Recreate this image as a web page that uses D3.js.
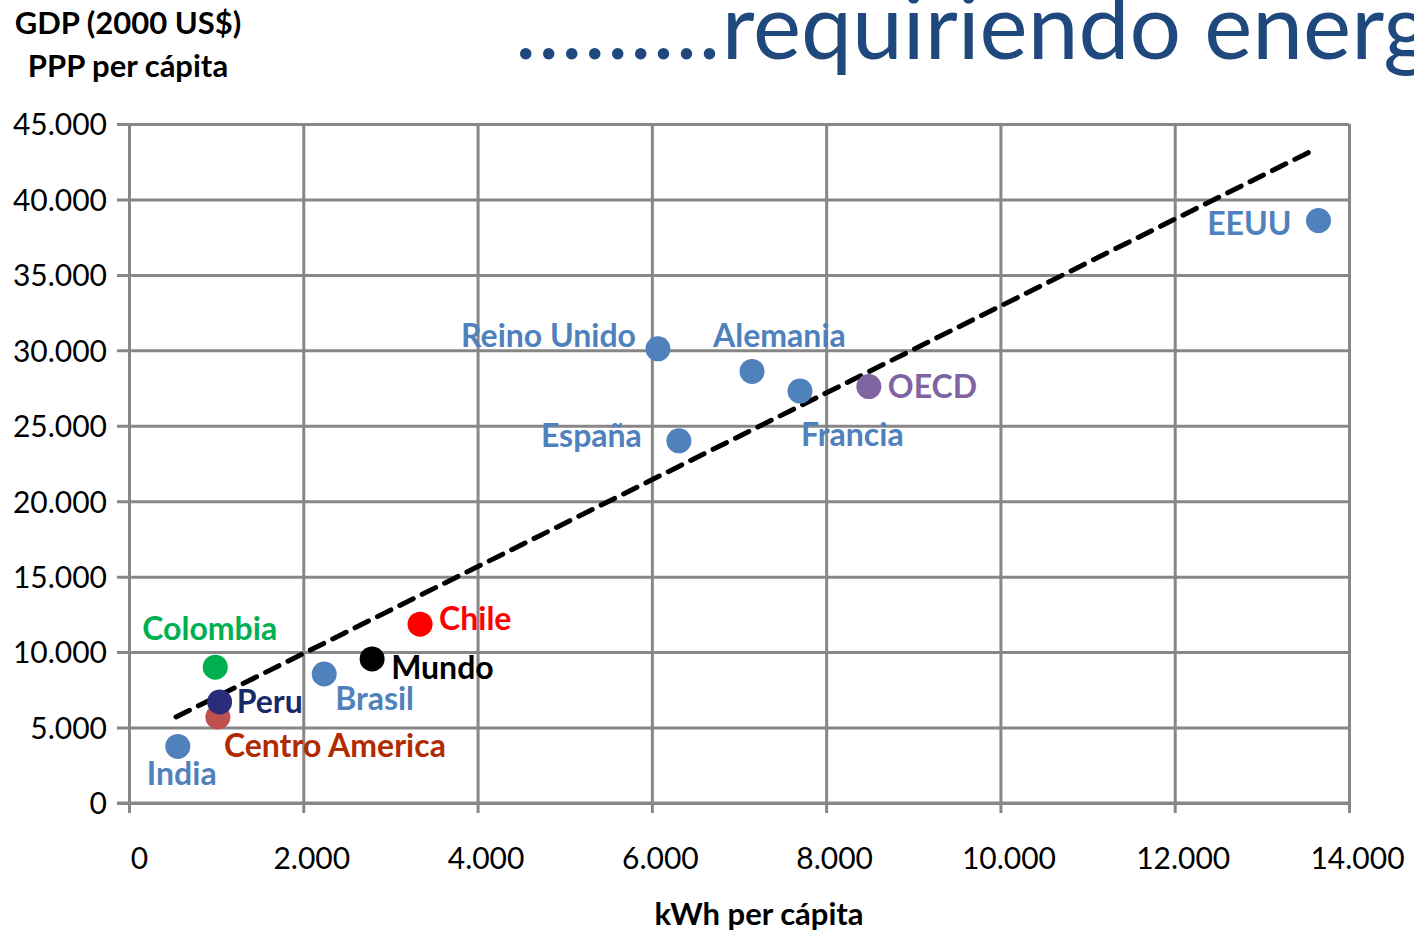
<!DOCTYPE html>
<html>
<head>
<meta charset="utf-8">
<script src="https://cdn.jsdelivr.net/npm/d3@7/dist/d3.min.js"></script>
<style>
  html, body { margin: 0; padding: 0; background: #fff; overflow: hidden; }
  svg { display: block; font-family: Lato, "Open Sans", sans-serif; }
</style>
</head>
<body>
<svg id="chart" width="1414" height="933"></svg>
<script>
// Energy use vs. income per person
const countries = ["EEUU", "Reino Unido", "Alemania", "Francia", "OECD", "España",
                   "Chile", "Mundo", "Brasil", "Colombia", "Peru", "Centro America", "India"];
const kwhPerCapita = [13650, 6070, 7150, 7700, 8490, 6310, 3340, 2790, 2240, 990, 1040, 1020, 560];
const gdpPerCapita = [38600, 30100, 28600, 27300, 27600, 24000, 11850, 9550, 8550, 9000, 6700, 5700, 3750];
const dotColors = ["#4F81BD", "#4F81BD", "#4F81BD", "#4F81BD", "#8064A2", "#4F81BD",
                   "#FF0000", "#000000", "#4F81BD", "#00B050", "#2B2C7C", "#C0504D", "#4F81BD"];
const labelColors = ["#4F81BD", "#4F81BD", "#4F81BD", "#4F81BD", "#8064A2", "#4F81BD",
                     "#FF0000", "#000000", "#4F81BD", "#00B050", "#172B6B", "#B22A00", "#4F81BD"];

// Trend line end points (kWh, GDP)
const trendKwh = [540, 13550];
const trendGdp = [5700, 43150];

const xTicks = [0, 2000, 4000, 6000, 8000, 10000, 12000, 14000];
const yTicks = [0, 5000, 10000, 15000, 20000, 25000, 30000, 35000, 40000, 45000];

// Label placement relative to each dot: [dx, dy, anchor]
const labelPlacement = {
  "EEUU": [-27, 14, "end"],
  "Reino Unido": [-22, -2, "end"],
  "Alemania": [-39, -24, "start"],
  "Francia": [1, 55, "start"],
  "OECD": [19, 11, "start"],
  "España": [-37, 6, "end"],
  "Chile": [19, 6, "start"],
  "Mundo": [19, 20, "start"],
  "Brasil": [11, 36, "start"],
  "Colombia": [-73, -27, "start"],
  "Peru": [17, 11, "start"],
  "Centro America": [6, 40, "start"],
  "India": [-31, 39, "start"]
};

const svg = d3.select("#chart");
const plotLeft = 129, plotRight = 1349, plotTop = 124, plotBottom = 803;

const x = d3.scaleLinear().domain([0, 14000]).range([plotLeft, plotRight]);
const y = d3.scaleLinear().domain([0, 45000]).range([plotBottom, plotTop]);

const locale = d3.formatLocale({ decimal: ",", thousands: ".", grouping: [3], currency: ["", "$"] });
const fmt = locale.format(",d");

const gridColor = "#878787";

// Horizontal grid with left ticks
const yAxis = d3.axisLeft(y).tickValues(yTicks).tickFormat(fmt)
  .tickSize(-(plotRight - plotLeft)).tickSizeOuter(0).tickPadding(10);
const gy = svg.append("g").attr("transform", `translate(${plotLeft},0)`).call(yAxis);
gy.select(".domain").remove();
gy.selectAll(".tick line").attr("x1", -12).attr("stroke", gridColor).attr("stroke-width", 3);
gy.selectAll(".tick text").attr("x", -22).attr("dy", "0.36em")
  .style("font-size", "30px").style("font-family", "Lato, sans-serif").attr("fill", "#000");

// Vertical grid with bottom ticks
const xAxis = d3.axisBottom(x).tickValues(xTicks).tickFormat(fmt)
  .tickSize(-(plotBottom - plotTop)).tickSizeOuter(0).tickPadding(10);
const gx = svg.append("g").attr("transform", `translate(0,${plotBottom})`).call(xAxis);
gx.select(".domain").remove();
gx.selectAll(".tick line").attr("y1", 10).attr("stroke", gridColor).attr("stroke-width", 3);
gx.selectAll(".tick text").attr("y", 55).attr("dy", "0.36em").attr("dx", 8)
  .style("font-size", "30px").style("font-family", "Lato, sans-serif").attr("fill", "#000");
// keep the "0" label right of its tick
gx.selectAll(".tick text").filter(d => d === 0).attr("dx", 10);

// Baseline axis line
svg.append("line").attr("x1", plotLeft - 12).attr("x2", plotRight).attr("y1", plotBottom).attr("y2", plotBottom)
  .attr("stroke", gridColor).attr("stroke-width", 3);

// Dashed trend line
svg.append("line")
  .attr("x1", x(trendKwh[0])).attr("y1", y(trendGdp[0]))
  .attr("x2", x(trendKwh[1])).attr("y2", y(trendGdp[1]))
  .attr("stroke", "#000").attr("stroke-width", 5)
  .attr("stroke-dasharray", "15 10").attr("stroke-linecap", "round");

// Dots
const points = countries.map((c, i) => ({ name: c, kwh: kwhPerCapita[i], gdp: gdpPerCapita[i], dot: dotColors[i], lab: labelColors[i] }));
const drawOrder = ["Colombia", "Centro America", "Peru", "India", "Brasil", "Mundo", "Chile",
                   "España", "Reino Unido", "Alemania", "Francia", "OECD", "EEUU"];
svg.append("g").selectAll("circle")
  .data(drawOrder.map(n => points.find(p => p.name === n)))
  .join("circle")
  .attr("cx", d => x(d.kwh)).attr("cy", d => y(d.gdp)).attr("r", 12.5)
  .attr("fill", d => d.dot);

// Point labels
svg.append("g").selectAll("text")
  .data(points)
  .join("text")
  .attr("x", d => x(d.kwh) + labelPlacement[d.name][0])
  .attr("y", d => y(d.gdp) + labelPlacement[d.name][1])
  .attr("text-anchor", d => labelPlacement[d.name][2])
  .attr("fill", d => d.lab)
  .style("font-size", "32px").style("font-weight", "bold")
  .text(d => d.name);

// Axis titles
const yTitle = svg.append("text").attr("text-anchor", "middle")
  .style("font-size", "31px").style("font-weight", "bold").attr("fill", "#000");
yTitle.append("tspan").attr("x", 128).attr("y", 34).text("GDP (2000 US$)");
yTitle.append("tspan").attr("x", 128).attr("y", 77).text("PPP per cápita");

svg.append("text").attr("x", 759).attr("y", 925).attr("text-anchor", "middle")
  .style("font-size", "31px").style("font-weight", "bold").attr("fill", "#000")
  .text("kWh per cápita");

// Headline
const head = svg.append("text").attr("x", 515).attr("y", 59)
  .style("font-size", "91px").attr("fill", "#1F497D");
head.append("tspan").style("letter-spacing", "1.5px").text(".........");
head.append("tspan").text("requiriendo energía");
</script>
</body>
</html>
